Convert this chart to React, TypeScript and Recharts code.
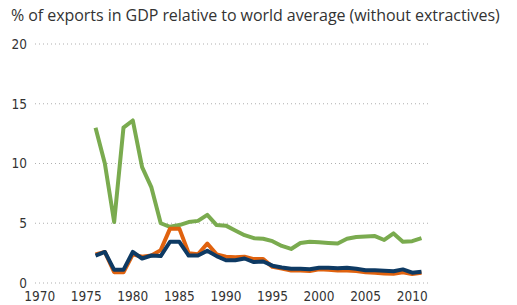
import React from "react";
import { LineChart, Line, XAxis, YAxis, CartesianGrid } from "recharts";

const years = [1976,1977,1978,1979,1980,1981,1982,1983,1984,1985,1986,1987,1988,1989,1990,1991,1992,1993,1994,1995,1996,1997,1998,1999,2000,2001,2002,2003,2004,2005,2006,2007,2008,2009,2010,2011];
const greenSeries = [13.0,10.0,5.1,13.0,13.6,9.7,8.0,5.0,4.7,4.85,5.1,5.2,5.7,4.85,4.8,4.4,4.0,3.75,3.7,3.5,3.1,2.85,3.35,3.45,3.4,3.35,3.3,3.7,3.85,3.9,3.93,3.6,4.15,3.45,3.5,3.75];
const orangeSeries = [2.4,2.6,0.9,0.9,2.4,2.2,2.3,2.75,4.55,4.55,2.5,2.4,3.3,2.4,2.2,2.15,2.2,2.0,2.0,1.35,1.2,1.05,1.05,1.0,1.15,1.1,1.05,1.05,1.0,0.9,0.85,0.8,0.78,0.9,0.75,0.85];
const navySeries = [2.3,2.6,1.1,1.1,2.6,2.05,2.3,2.25,3.45,3.45,2.3,2.3,2.7,2.25,1.9,1.9,2.05,1.75,1.8,1.45,1.3,1.2,1.2,1.15,1.28,1.28,1.23,1.28,1.2,1.06,1.06,1.03,0.98,1.14,0.86,0.95];
const xTicks = [1970,1975,1980,1985,1990,1995,2000,2005,2010];
const yTicks = [0,5,10,15,20];
const title = "% of exports in GDP relative to world average (without extractives)";

const data = years.map((y, i) => ({ year: y, green: greenSeries[i], orange: orangeSeries[i], navy: navySeries[i] }));

const font = "'Liberation Sans Narrow', 'DejaVu Sans Condensed', 'Open Sans', sans-serif";

export default function App() {
  return (
    <div style={{ position: "absolute", left: 0, top: 0, width: 517, height: 305, background: "#fff", overflow: "hidden" }}>
      <div style={{ position: "absolute", left: 11, top: 4, fontFamily: "'Open Sans', sans-serif", fontSize: 16, color: "#333", whiteSpace: "nowrap", letterSpacing: -0.05 }}>
        {title}
      </div>
      <LineChart width={517} height={305} data={data} margin={{ top: 44, right: 89, bottom: 0, left: 0 }}>
        <CartesianGrid vertical={false} stroke="#b0b0b0" strokeDasharray="1 3" strokeWidth={1.2} />
        <XAxis
          dataKey="year"
          type="number"
          domain={[1969.5, 2011.7]}
          ticks={xTicks}
          allowDataOverflow
          axisLine={false}
          tickLine={false}
          height={22}
          tick={{ fill: "#333", fontSize: 13.5, fontFamily: font }}
          interval={0}
        />
        <YAxis
          domain={[0, 20]}
          ticks={yTicks}
          axisLine={false}
          tickLine={false}
          width={35}
          tick={{ fill: "#333", fontSize: 13.5, fontFamily: font }}
          interval={0}
        />
        <Line dataKey="green" stroke="#7aab4f" strokeWidth={4} dot={false} isAnimationActive={false} strokeLinejoin="round" />
        <Line dataKey="orange" stroke="#e0620e" strokeWidth={4} dot={false} isAnimationActive={false} strokeLinejoin="round" />
        <Line dataKey="navy" stroke="#0e3a63" strokeWidth={4} dot={false} isAnimationActive={false} strokeLinejoin="round" />
      </LineChart>
    </div>
  );
}
